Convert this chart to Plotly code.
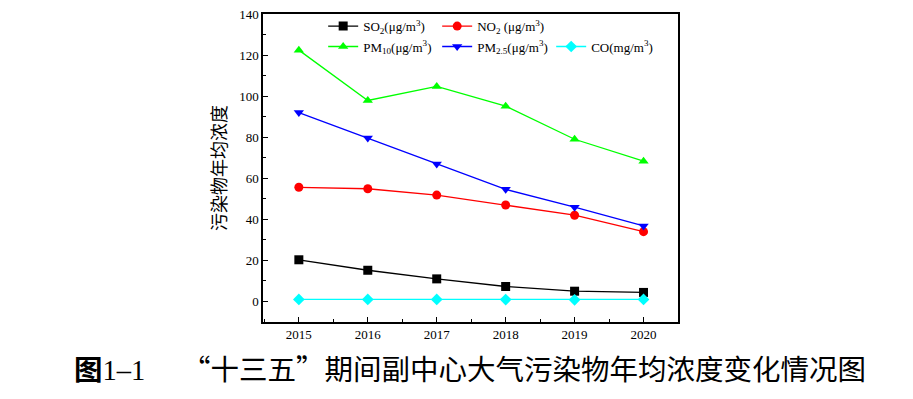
import plotly.graph_objects as go

years = [2015, 2016, 2017, 2018, 2019, 2020]
so2 = [20.3, 15.2, 11.0, 7.3, 5.0, 4.4]
no2 = [55.6, 54.9, 51.8, 47.0, 42.0, 34.0]
pm10 = [122.4, 97.9, 104.7, 95.1, 79.0, 68.3]
pm25 = [92.0, 79.6, 66.9, 54.6, 45.9, 36.8]
co = [1.0, 1.0, 1.0, 0.9, 0.8, 1.0]

names = [
    "SO<sub>2</sub>(μg/m<sup>3</sup>)",
    "NO<sub>2</sub> (μg/m<sup>3</sup>)",
    "PM<sub>10</sub>(μg/m<sup>3</sup>)",
    "PM<sub>2.5</sub>(μg/m<sup>3</sup>)",
    "CO(mg/m<sup>3</sup>)",
]
series = [so2, no2, pm10, pm25, co]
colors = ["#000000", "#FF0000", "#00FF00", "#0000FF", "#00FFFF"]
symbols = ["square", "circle", "triangle-up", "triangle-down", "diamond"]
legends = ["legend", "legend", "legend2", "legend2", "legend2"]

ylabel = "污染物年均浓度"
caption_num = "<b>图</b><span style='font-family:Liberation Serif'>1–1</span>"
caption_text = "“十三五”期间副中心大气污染物年均浓度变化情况图"

fig = go.Figure()
for nm, vals, c, s, lg in zip(names, series, colors, symbols, legends):
    fig.add_trace(go.Scatter(
        x=years, y=vals, name=nm, mode="lines+markers",
        line=dict(color=c, width=1.3),
        marker=dict(symbol=s, size=9, color=c),
        legend=lg,
    ))

serif = "Liberation Serif, Times New Roman, serif"
fig.update_layout(
    width=913, height=399,
    margin=dict(l=263, r=235, t=13, b=77),
    paper_bgcolor="white", plot_bgcolor="white",
    font=dict(family=serif, size=13, color="black"),
    xaxis=dict(
        range=[2014.48, 2020.5], tickmode="array", tickvals=years,
        ticks="inside", ticklen=5, tickwidth=1, tickcolor="black",
        minor=dict(ticks="inside", ticklen=3, dtick=0.5, tick0=2014.5, tickcolor="black"),
        showline=True, linecolor="black", linewidth=1.5, mirror=True,
        showgrid=False, zeroline=False, automargin=False,
        tickfont=dict(family=serif, size=13),
    ),
    yaxis=dict(
        range=[-10, 140], tickmode="linear", tick0=0, dtick=20,
        ticks="inside", ticklen=5, tickwidth=1, tickcolor="black",
        minor=dict(ticks="inside", ticklen=3, dtick=10, tickcolor="black"),
        showline=True, linecolor="black", linewidth=1.5, mirror=True,
        showgrid=False, zeroline=False, automargin=False,
        tickfont=dict(family=serif, size=13),
        title=dict(text=ylabel, font=dict(family="Noto Sans CJK SC", size=18), standoff=8),
    ),
    legend=dict(
        orientation="h", x=0.145, y=1.006, xanchor="left", yanchor="top",
        bgcolor="rgba(0,0,0,0)", font=dict(family=serif, size=13),
        entrywidth=69, entrywidthmode="pixels", itemwidth=30,
    ),
    legend2=dict(
        orientation="h", x=0.145, y=0.94, xanchor="left", yanchor="top",
        bgcolor="rgba(0,0,0,0)", font=dict(family=serif, size=13),
        entrywidth=69, entrywidthmode="pixels", itemwidth=30,
    ),
    showlegend=True,
)

cap_y = -(368 - 322) / 309
fig.add_annotation(
    text=caption_num, xref="paper", yref="paper",
    x=(72 - 263) / 415, y=cap_y, xanchor="left", yanchor="middle",
    showarrow=False, font=dict(family="Noto Sans CJK SC", size=28.5, color="black"),
)
fig.add_annotation(
    text=caption_text, xref="paper", yref="paper",
    x=(180 - 263) / 415, y=cap_y, xanchor="left", yanchor="middle",
    showarrow=False, font=dict(family="Noto Sans CJK SC", size=28.5, color="black"),
)

fig.write_html("out.html", config={"displayModeBar": False},
               post_script="document.body.style.margin='0px';")
